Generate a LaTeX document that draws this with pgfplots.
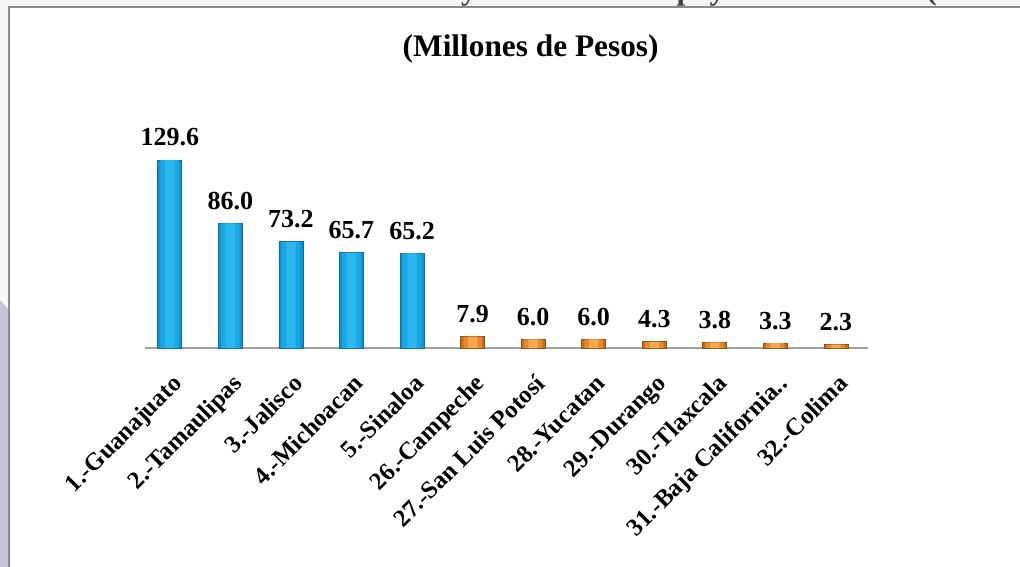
\documentclass[border=0pt]{standalone}
\usepackage{fontspec}
\setmainfont{Liberation Serif}
\usepackage{pgfplots}
\usepackage{pgfplotstable}
\pgfplotsset{compat=1.18}

\definecolor{cyanD}{HTML}{1292D2}
\definecolor{cyanM}{HTML}{1AA8E4}
\definecolor{cyanL}{HTML}{2CB8EE}
\definecolor{cyanE}{HTML}{0A6E9E}
\definecolor{orD}{HTML}{C86E1A}
\definecolor{orM}{HTML}{E6892A}
\definecolor{orL}{HTML}{F4A850}
\definecolor{orE}{HTML}{8F4F12}
\definecolor{framegray}{HTML}{8A8A8A}
\definecolor{axisgray}{HTML}{A0A0A0}
\definecolor{lav}{HTML}{CBC3DC}

% largest five and smallest seven states, millions of pesos
\pgfplotstableread{
x y
0 129.6
1 86.0
2 73.2
3 65.7
4 65.2
}\mayores
\pgfplotstableread{
x y
5 7.9
6 6.0
7 6.0
8 4.3
9 3.8
10 3.3
11 2.3
}\menores

\begin{document}
\begin{tikzpicture}
% 1 px of the reference = 0.75pt, y grows downward as negative
\useasboundingbox (0,0) rectangle (765pt,-425.25pt);
\fill[white] (0,0) rectangle (765pt,-425.25pt);
\fill[gray!7] (0,0) rectangle (765pt,-5.25pt);
\fill[gray!6] (0,0) rectangle (6.75pt,-425.25pt);
\fill[lav] (0,-225pt) -- (6.75pt,-232.5pt) -- (6.75pt,-425.25pt) -- (0,-425.25pt) -- cycle;
\draw[framegray, line width=1.5pt] (6.75pt,-425.25pt) -- (6.75pt,-5.25pt) -- (765pt,-5.25pt);

% cut-off heading above the frame
\node[anchor=base east, inner sep=0pt, black!75, font=\bfseries\fontsize{23.5}{27}\selectfont]
  at (688.5pt,0pt) {Entidades federativas con mayores/menores apoyos autorizados};
\node[anchor=base west, inner sep=0pt, black!75, font=\bfseries\fontsize{23.5}{27}\selectfont]
  at (694.5pt,0pt) {(Monto)};

\node[font=\bfseries\fontsize{23.5}{27}\selectfont] at (398pt,-36.5pt) {(Millones de Pesos)};

\begin{axis}[
  at={(108.75pt,-261pt)}, anchor=south west,
  scale only axis, width=542.25pt, height=152.3pt,
  xmin=-0.41, xmax=11.53, ymin=0, ymax=140,
  axis x line=bottom, axis y line=none,
  x axis line style={axisgray, line width=1.2pt, -},
  xtick={0,...,11},
  xticklabels={1.-Guanajuato,2.-Tamaulipas,3.-Jalisco,4.-Michoacan,5.-Sinaloa,
    26.-Campeche,27.-San Luis Potosí,28.-Yucatan,29.-Durango,30.-Tlaxcala,
    31.-Baja California..,32.-Colima},
  major tick length=0pt,
  xticklabel style={xshift=0.75pt, yshift=-18.5pt, rotate=45, anchor=north east,
    inner sep=0pt, font=\bfseries\fontsize{18.5}{20}\selectfont},
  ybar, bar shift=0pt,
  /pgf/number format/fixed, /pgf/number format/fixed zerofill,
  /pgf/number format/precision=1, /pgf/number format/assume math mode=true,
  every node near coord/.append style={font=\bfseries\fontsize{19.5}{22}\selectfont,
    black, inner sep=0pt, yshift=10pt},
  clip=false,
]
% outer bar, then lighter narrower layers for the rounded look
\addplot[fill=cyanD, draw=cyanE, line width=0.6pt, bar width=18pt, nodes near coords] table {\mayores};
\addplot[fill=cyanM, draw=none, bar width=14pt] table {\mayores};
\addplot[fill=cyanL, draw=none, bar width=7pt] table {\mayores};
\addplot[fill=orD, draw=orE, line width=0.6pt, bar width=18pt, nodes near coords] table {\menores};
\addplot[fill=orM, draw=none, bar width=14pt] table {\menores};
\addplot[fill=orL, draw=none, bar width=7pt] table {\menores};
\end{axis}
\end{tikzpicture}
\end{document}
